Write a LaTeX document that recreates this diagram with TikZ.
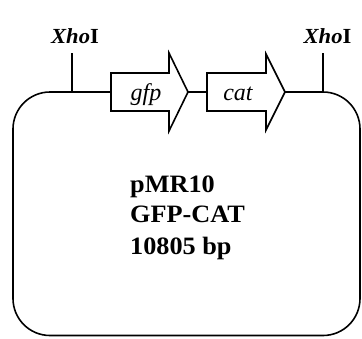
\documentclass[tikz,border=0pt]{standalone}
\usepackage{fontspec}
\usepackage{graphicx}
\setmainfont{Liberation Serif}
\newcommand{\widetxt}[1]{\scalebox{1.05}[1]{#1}}
\tikzset{
  outline/.style={line width=1.6pt, line join=miter},
  genebox/.style={line width=1.6pt, line join=miter, fill=white},
  site/.style={font=\fontsize{21.5}{23}\selectfont\bfseries, anchor=base},
  genelabel/.style={font=\fontsize{24}{26}\selectfont\itshape, anchor=base},
  info/.style={font=\fontsize{25}{28}\selectfont\bfseries, anchor=base west, inner sep=0pt}
}
\begin{document}
\begin{tikzpicture}[x=1pt,y=-1pt]
\useasboundingbox (0,0) rectangle (362,338);
% coordinates
\coordinate (gfpW) at (111,92);
\coordinate (gfpTip) at (188,92);
\coordinate (catW) at (207,92);
\coordinate (catTip) at (285,92);
\coordinate (xl) at (72,92);
\coordinate (xlTop) at (72,53);
\coordinate (xr) at (323,92);
\coordinate (xrTop) at (323,53);
% plasmid outline
\draw[outline, rounded corners=37pt] (gfpW) -| (13,335.5) -| (360,92) -- (catTip);
\draw[outline] (gfpTip) -- (catW);
% restriction sites
\draw[outline] (xl) -- (xlTop);
\draw[outline] (xr) -- (xrTop);
\node[site] (xhoL) at (75,43.5) {\widetxt{\textit{Xho}I}};
\node[site] (xhoR) at (327.5,43.5) {\widetxt{\textit{Xho}I}};
% genes
\draw[genebox] (111,73) -- (169,73) -- (169,53) -- (gfpTip) -- (169,131) -- (169,111) -- (111,111) -- cycle;
\draw[genebox] (207,73) -- (266,73) -- (266,54) -- (catTip) -- (266,130) -- (266,111) -- (207,111) -- cycle;
\node[genelabel] (gfp) at (146,100) {gfp};
\node[genelabel] (cat) at (238,100) {cat};
% info
\node[info] (l1) at (130,192.5) {\widetxt{pMR10}};
\node[info] (l2) at (130,222.5) {\widetxt{GFP-CAT}};
\node[info] (l3) at (130,254.5) {\widetxt{10805 bp}};
\end{tikzpicture}
\end{document}
